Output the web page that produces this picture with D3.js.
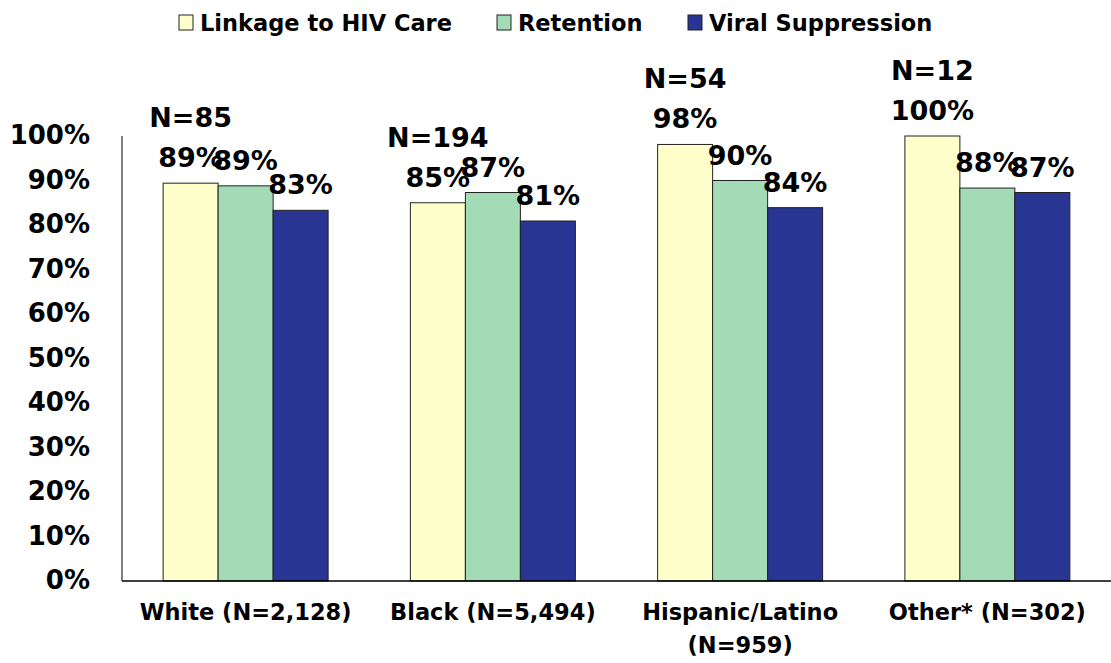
<!DOCTYPE html>
<html>
<head>
<meta charset="utf-8">
<script src="https://cdn.jsdelivr.net/npm/d3@7"></script>
<style>
  body { margin: 0; background: #fff; }
  svg text { font-family: "DejaVu Sans", sans-serif; font-weight: bold; fill: #000; }
</style>
</head>
<body>
<svg id="chart" width="1111" height="663"></svg>
<script>
// categories and series
const categories = ["White (N=2,128)", "Black (N=5,494)", "Hispanic/Latino (N=959)", "Other* (N=302)"]
const categoryLines = [["White (N=2,128)"], ["Black (N=5,494)"], ["Hispanic/Latino", "(N=959)"], ["Other* (N=302)"]]
const seriesNames = ["Linkage to HIV Care", "Retention", "Viral Suppression"]
const linkage = [89.4, 85.0, 98.1, 100]
const retention = [88.8, 87.3, 90.0, 88.3]
const suppression = [83.3, 80.9, 83.9, 87.3]
const linkageN = ["N=85", "N=194", "N=54", "N=12"]
const yTicks = [0, 10, 20, 30, 40, 50, 60, 70, 80, 90, 100]

const colors = ["#FFFFCC", "#A3DBB6", "#283593"]

let svg = d3.select("#chart")

// scales
let y = d3.scaleLinear().domain([0, 100]).range([581, 136])
let x0 = d3.scaleBand().domain(categories).range([122, 1111]).paddingInner(0).paddingOuter(0)
let x1 = d3.scaleBand().domain(seriesNames).range([0, x0.bandwidth()]).paddingInner(0).paddingOuter(0.748)

let rows = categories.map((c, i) => ({
    cat: c,
    lines: categoryLines[i],
    n: linkageN[i],
    values: [linkage[i], retention[i], suppression[i]]
}))

// y tick labels
svg.append("g").selectAll("text")
    .data(yTicks)
    .enter().append("text")
    .attr("x", 90)
    .attr("y", d => y(d))
    .attr("dy", "0.32em")
    .attr("text-anchor", "end")
    .style("font-size", "26px")
    .text(d => d + "%")

// bars
let groups = svg.append("g").selectAll("g.cat")
    .data(rows)
    .enter().append("g")
    .attr("class", "cat")
    .attr("transform", d => "translate(" + x0(d.cat) + ",0)")

groups.selectAll("rect")
    .data(d => d.values.map((v, j) => ({ key: seriesNames[j], v: v, j: j })))
    .enter().append("rect")
    .attr("x", d => x1(d.key))
    .attr("y", d => y(d.v))
    .attr("width", x1.bandwidth())
    .attr("height", d => y(0) - y(d.v))
    .attr("fill", d => colors[d.j])
    .attr("stroke", "#222")
    .attr("stroke-width", 1)

// value labels (they overlap a bit, like the original)
groups.selectAll("text.val")
    .data(d => d.values.map((v, j) => ({ key: seriesNames[j], v: v })))
    .enter().append("text")
    .attr("class", "val")
    .attr("x", d => x1(d.key) + x1.bandwidth() / 2)
    .attr("y", d => y(d.v) - 16)
    .attr("text-anchor", "middle")
    .style("font-size", "27px")
    .text(d => Math.round(d.v) + "%")

// N labels above linkage bars
groups.append("text")
    .attr("x", x1(seriesNames[0]) + x1.bandwidth() / 2)
    .attr("y", d => y(d.values[0]) - 56)
    .attr("text-anchor", "middle")
    .style("font-size", "27px")
    .text(d => d.n)

// axes lines
svg.append("line")
    .attr("x1", 122).attr("x2", 122)
    .attr("y1", y(100)).attr("y2", y(0))
    .attr("stroke", "#555").attr("stroke-width", 1.5)
svg.append("line")
    .attr("x1", 122).attr("x2", 1111)
    .attr("y1", y(0)).attr("y2", y(0))
    .attr("stroke", "#000").attr("stroke-width", 1.5)

// category labels
let catLabels = svg.append("g").selectAll("text")
    .data(rows)
    .enter().append("text")
    .attr("x", d => x0(d.cat) + x0.bandwidth() / 2)
    .attr("y", 620)
    .attr("text-anchor", "middle")
    .style("font-size", "22.5px")

catLabels.selectAll("tspan")
    .data(d => d.lines)
    .enter().append("tspan")
    .attr("x", function () { return d3.select(this.parentNode).attr("x") })
    .attr("dy", (d, i) => i === 0 ? 0 : 33)
    .text(d => d)

// legend
let legendX = [179, 497, 688]
let legend = svg.append("g").selectAll("g")
    .data(seriesNames)
    .enter().append("g")
    .attr("transform", (d, i) => "translate(" + legendX[i] + ",15)")

legend.append("rect")
    .attr("width", 14).attr("height", 15)
    .attr("fill", (d, i) => colors[i])
    .attr("stroke", "#222").attr("stroke-width", 1)

legend.append("text")
    .attr("x", 21)
    .attr("y", 8)
    .attr("dy", "0.36em")
    .style("font-size", "22.5px")
    .text(d => d)
</script>
</body>
</html>
